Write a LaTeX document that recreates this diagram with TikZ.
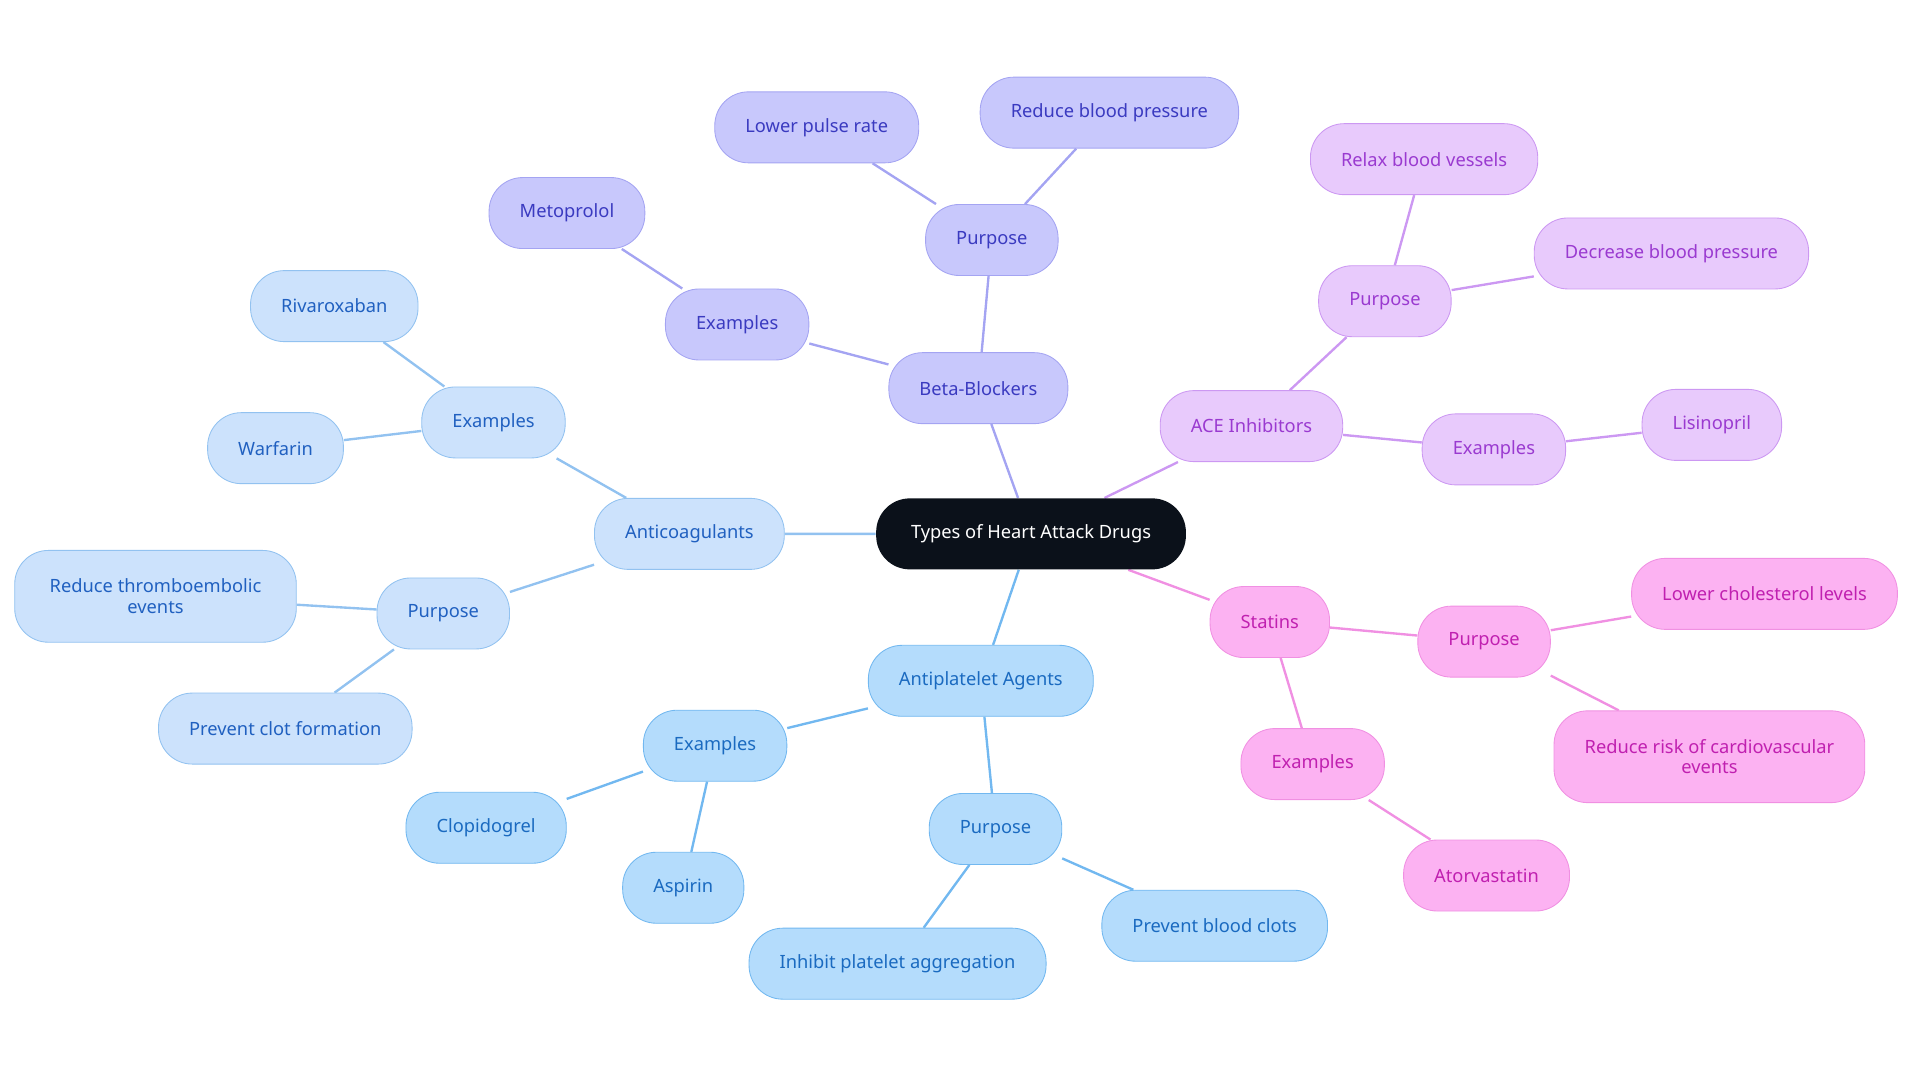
\documentclass[tikz,border=0pt]{standalone}
\usepackage{fontspec}
\setmainfont{Noto Sans}
\usetikzlibrary{backgrounds}
\definecolor{hubfill}{HTML}{0B111A}
\definecolor{betafill}{HTML}{C8C8FC}\definecolor{betadraw}{HTML}{A4A4F2}\definecolor{betatext}{HTML}{3A3AC0}
\definecolor{acefill}{HTML}{E8CAFC}\definecolor{acedraw}{HTML}{CC98F2}\definecolor{acetext}{HTML}{9A3AD0}
\definecolor{statfill}{HTML}{FCB2F2}\definecolor{statdraw}{HTML}{F090E2}\definecolor{stattext}{HTML}{C020B0}
\definecolor{platfill}{HTML}{B4DCFC}\definecolor{platdraw}{HTML}{72B8F0}\definecolor{plattext}{HTML}{1A6AC0}
\definecolor{coagfill}{HTML}{CCE2FC}\definecolor{coagdraw}{HTML}{92C2F0}\definecolor{coagtext}{HTML}{2060C0}
\tikzset{
	pill/.style={rounded corners=0.55cm, minimum height=1.16cm, inner xsep=0.5cm, align=center, font=\fontsize{8.5}{9.5}\selectfont},
	hubnode/.style={pill, fill=hubfill, text=white},
	betanode/.style={pill, fill=betafill, draw=betadraw, text=betatext},
	acenode/.style={pill, fill=acefill, draw=acedraw, text=acetext},
	statnode/.style={pill, fill=statfill, draw=statdraw, text=stattext},
	platnode/.style={pill, fill=platfill, draw=platdraw, text=plattext},
	coagnode/.style={pill, fill=coagfill, draw=coagdraw, text=coagtext},
	link/.style={line width=1.1pt}
}
\begin{document}
\begin{tikzpicture}[x=0.02cm, y=-0.02cm]
	\useasboundingbox (0,0) rectangle (1568,884);
	\node[hubnode, minimum width=5.06cm] at (842,436) (hub) {Types of Heart Attack Drugs};
	
	% beta-blockers
	\node[betanode] at (799,317) (beta) {Beta-Blockers};
	\node[betanode] at (602,265) (betaex) {Examples};
	\node[betanode] at (463,174) (meto) {Metoprolol};
	\node[betanode] at (810,196) (betapur) {Purpose};
	\node[betanode] at (667,104) (pulse) {Lower pulse rate};
	\node[betanode] at (906,92) (betabp) {Reduce blood pressure};
	
	% ace inhibitors
	\node[acenode] at (1022,348) (ace) {ACE Inhibitors};
	\node[acenode] at (1131,246) (acepur) {Purpose};
	\node[acenode] at (1163,130) (relax) {Relax blood vessels};
	\node[acenode] at (1365,207) (acebp) {Decrease blood pressure};
	\node[acenode] at (1220,367) (aceex) {Examples};
	\node[acenode] at (1398,347) (lisi) {Lisinopril};
	
	% statins
	\node[statnode] at (1037,508) (stat) {Statins};
	\node[statnode] at (1212,524) (statpur) {Purpose};
	\node[statnode] at (1441,485) (chol) {Lower cholesterol levels};
	\node[statnode, minimum height=1.5cm] at (1396,618) (cardio) {Reduce risk of cardiovascular\\events};
	\node[statnode] at (1072,624) (statex) {Examples};
	\node[statnode] at (1214,715) (atorva) {Atorvastatin};
	
	% antiplatelet agents
	\node[platnode] at (801,556) (plat) {Antiplatelet Agents};
	\node[platnode] at (584,609) (platex) {Examples};
	\node[platnode] at (397,676) (clopi) {Clopidogrel};
	\node[platnode] at (558,725) (aspi) {Aspirin};
	\node[platnode] at (813,677) (platpur) {Purpose};
	\node[platnode] at (733,787) (inhib) {Inhibit platelet aggregation};
	\node[platnode] at (992,756) (clots) {Prevent blood clots};
	
	% anticoagulants
	\node[coagnode] at (563,436) (coag) {Anticoagulants};
	\node[coagnode] at (403,345) (coagex) {Examples};
	\node[coagnode] at (273,250) (riva) {Rivaroxaban};
	\node[coagnode] at (225,366) (warf) {Warfarin};
	\node[coagnode] at (362,501) (coagpur) {Purpose};
	\node[coagnode, minimum height=1.5cm, minimum width=4.6cm] at (127,487) (thrombo) {Reduce thromboembolic\\events};
	\node[coagnode] at (233,595) (clotform) {Prevent clot formation};
	
	%Lines
	\begin{scope}[on background layer]
	\draw[link, betadraw] (hub) -- (beta) (beta) -- (betaex) (betaex) -- (meto) (beta) -- (betapur) (betapur) -- (pulse) (betapur) -- (betabp);
	\draw[link, acedraw] (hub) -- (ace) (ace) -- (acepur) (acepur) -- (relax) (acepur) -- (acebp) (ace) -- (aceex) (aceex) -- (lisi);
	\draw[link, statdraw] (hub) -- (stat) (stat) -- (statpur) (statpur) -- (chol) (statpur) -- (cardio) (stat) -- (statex) (statex) -- (atorva);
	\draw[link, platdraw] (hub) -- (plat) (plat) -- (platex) (platex) -- (clopi) (platex) -- (aspi) (plat) -- (platpur) (platpur) -- (inhib) (platpur) -- (clots);
	\draw[link, coagdraw] (hub) -- (coag) (coag) -- (coagex) (coagex) -- (riva) (coagex) -- (warf) (coag) -- (coagpur) (coagpur) -- (thrombo) (coagpur) -- (clotform);
	\end{scope}
\end{tikzpicture}
\end{document}
